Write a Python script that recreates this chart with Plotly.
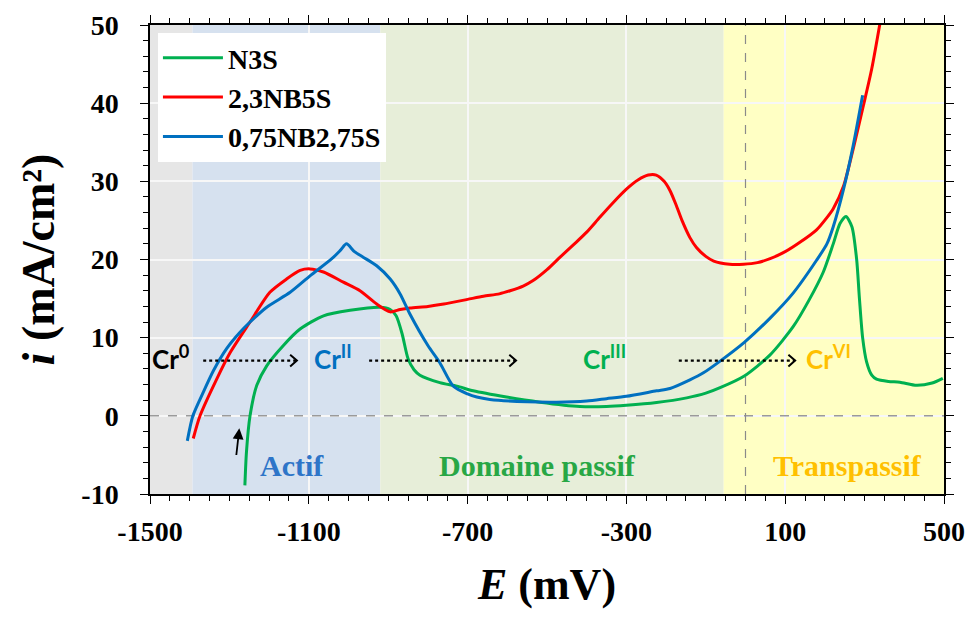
import plotly.graph_objects as go

# ---------------- data ----------------
E_N3S = [-1261, -1257, -1248, -1231, -1206, -1164, -1122, -1063, -996, -920, -895, -880, -865,
         -850, -835, -820, -770, -727, -686, -602, -518, -417, -350, -300, -224, -148, -100,
         -64, -3, 62, 120, 160, 196, 221, 238, 253, 268, 280, 287, 295, 305, 318, 330, 360,
         389, 431, 470, 497]
I_N3S = [-8.9, -4.6, 0.0, 3.9, 6.4, 9.0, 11.1, 12.8, 13.5, 13.9, 13.6, 12.8, 10.5,
         7.3, 5.9, 5.2, 4.25, 3.8, 3.2, 2.4, 1.75, 1.2, 1.2, 1.35, 1.7, 2.3, 2.9,
         3.6, 5.1, 7.8, 11.4, 14.8, 18.4, 22.0, 24.6, 25.5, 24.2, 20.0, 15.0, 10.0, 6.9, 5.2, 4.7, 4.4,
         4.3, 3.9, 4.2, 4.8]

E_NB5S = [-1391, -1374, -1332, -1298, -1248, -1198, -1156, -1122, -1097, -1063, -1013, -971, -929,
          -895, -870, -845, -800, -760, -700, -660, -620, -593, -560, -535, -500, -467, -433, -400,
          -367, -333, -300, -270, -245, -225, -205, -190, -175, -160, -140, -123, -100, -80, -40,
          -5, 30, 62, 100, 137, 179, 204, 221, 247, 271, 297, 318, 339]
I_NB5S = [-2.9, 0.0, 4.7, 8.1, 12.0, 15.8, 17.5, 18.6, 18.8, 18.4, 17.1, 16.0, 14.3,
          13.3, 13.6, 13.8, 14.0, 14.3, 14.9, 15.3, 15.6, 16.0, 16.6, 17.3, 18.7, 20.3, 21.9, 23.5,
          25.4, 27.3, 29.0, 30.2, 30.8, 30.8, 30.0, 28.8, 27.0, 25.0, 22.8, 21.5, 20.4, 19.8, 19.4,
          19.4, 19.6, 20.1, 21.0, 22.2, 23.8, 25.3, 26.5, 29.4, 34.1, 39.7, 44.4, 50.3]

E_NB275S = [-1406, -1392, -1366, -1340, -1307, -1275, -1248, -1206, -1147, -1097, -1042, -1020,
            -1005, -985, -963, -929, -895, -870, -845, -800, -770, -736, -700, -677, -644, -550,
            -476, -400, -350, -300, -224, -190, -140, -106, -64, -3, 62, 120, 179, 205, 221, 247,
            271, 295]
I_NB275S = [-3.2, 0.0, 3.0, 5.8, 8.6, 10.6, 12.0, 13.9, 15.8, 17.9, 20.1, 21.2,
            22.0, 21.0, 20.3, 19.2, 17.5, 15.6, 13.0, 9.0, 6.8, 3.8, 2.8, 2.4, 2.1, 1.8,
            1.75, 1.9, 2.2, 2.5, 3.2, 3.5, 4.6, 5.5, 7.0, 9.4, 12.5, 15.7, 19.9, 22.0, 24.2, 29.0,
            34.5, 41.0]

series_names = ["N3S", "2,3NB5S", "0,75NB2,75S"]
series_colors = ["#00b050", "#ff0000", "#0070c0"]

x_tickvals = [-1500, -1100, -700, -300, 100, 500]
x_ticktext = ["-1500", "-1100", "-700", "-300", "100", "500"]
y_tickvals = [-10, 0, 10, 20, 30, 40, 50]
y_ticktext = ["-10", "0", "10", "20", "30", "40", "50"]

# domains (mV)
dom_bounds = [-1500, -1393, -920, -55, 500]
dom_colors = ["#e6e6e6", "#d6e1ef", "#e7eed9", "#ffffc4"]

fig = go.Figure()

for E, I, name, col in zip([E_N3S, E_NB5S, E_NB275S], [I_N3S, I_NB5S, I_NB275S],
                           series_names, series_colors):
    fig.add_trace(go.Scatter(x=E, y=I, mode="lines", name=f"<b>{name}</b>",
                             line=dict(color=col, width=3, shape="spline", smoothing=0.7)))

# background domains
for i in range(4):
    fig.add_shape(type="rect", xref="x", yref="y", x0=dom_bounds[i], x1=dom_bounds[i + 1],
                  y0=-10, y1=50, fillcolor=dom_colors[i], line=dict(width=0), layer="below")

# dashed reference lines
fig.add_shape(type="line", xref="x", yref="y", x0=-1500, x1=500, y0=0, y1=0,
              line=dict(color="#9a9a9a", width=1.5, dash="dash"), layer="between")
fig.add_shape(type="line", xref="x", yref="y", x0=0, x1=0, y0=-10, y1=50,
              line=dict(color="#8a8a8a", width=1.2, dash="dash"), layer="between")

# dotted arrows Cr transitions
arrow_y = 7.07
for x0, x1 in [(-1366, -1130), (-948, -578), (-168, 125)]:
    fig.add_shape(type="line", xref="x", yref="y", x0=x0, x1=x1, y0=arrow_y, y1=arrow_y,
                  line=dict(color="black", width=2.2, dash="dot"))
    fig.add_shape(type="path", xref="x", yref="y",
                  path=f"M {x1-17},{arrow_y+0.75} L {x1},{arrow_y} L {x1-17},{arrow_y-0.75}",
                  line=dict(color="black", width=2))

cr_font = "Lato, 'Open Sans', sans-serif"
for txt, xx, col in [("Cr<sup>0</sup>", -1447, "black"), ("Cr<sup>II</sup>", -1040, "#0070c0"),
                     ("Cr<sup>III</sup>", -356, "#00b050"), ("Cr<sup>VI</sup>", 208, "#ffc000")]:
    fig.add_annotation(x=xx, y=arrow_y + 0.4, xref="x", yref="y", text=f"<b>{txt}</b>",
                       showarrow=False, font=dict(family=cr_font, size=26, color=col))

serif = "'Liberation Serif', 'Times New Roman', serif"
for txt, xx, col in [("Actif", -1142, "#2e75c8"), ("Domaine passif", -523, "#28a745"),
                     ("Transpassif", 256, "#ffc000")]:
    fig.add_annotation(x=xx, y=-6.4, xref="x", yref="y", text=f"<b>{txt}</b>",
                       showarrow=False, font=dict(family=serif, size=30, color=col))

# small black arrow
fig.add_annotation(x=-1275, y=-1.6, ax=-1283, ay=-5.2, xref="x", yref="y", axref="x", ayref="y",
                   text="", showarrow=True, arrowhead=2, arrowsize=1.2, arrowwidth=1.8,
                   arrowcolor="black")

axis_common = dict(showline=True, linecolor="black", linewidth=1.5, mirror="ticks",
                   ticks="outside", tickcolor="black", ticklen=8, tickwidth=1.2,
                   showgrid=True, gridcolor="#f7f7f7", gridwidth=1.5, zeroline=False,
                   automargin=False,
                   tickfont=dict(family=serif, size=28, color="black"))

fig.update_xaxes(range=[-1500, 500], tickvals=x_tickvals, ticktext=[f"<b>{t}</b>" for t in x_ticktext],
                 minor=dict(dtick=50, tick0=-1500, ticklen=5, ticks="outside", tickcolor="black",
                            showgrid=False),
                 ticklabelstandoff=4,
                 title=dict(text="<b><i>E</i> (mV)</b>", font=dict(family=serif, size=44, color="black"),
                            standoff=22),
                 **axis_common)
fig.update_yaxes(range=[-10, 50], tickvals=y_tickvals, ticktext=[f"<b>{t}</b>" for t in y_ticktext],
                 minor=dict(dtick=2, tick0=0, ticklen=5, ticks="outside", tickcolor="black",
                            showgrid=False),
                 ticklabelstandoff=16,
                 title=dict(text="<b><i>i</i> (mA/cm²)</b>", font=dict(family=serif, size=46, color="black"),
                            standoff=12),
                 **axis_common)

fig.update_layout(
    width=971, height=618,
    margin=dict(l=150, r=27, t=25, b=124),
    paper_bgcolor="white", plot_bgcolor="white",
    showlegend=True,
    legend=dict(x=0.01, y=0.983, xanchor="left", yanchor="top", bgcolor="white",
                font=dict(family=serif, size=28, color="black"), tracegroupgap=0,
                itemwidth=60),
)

fig.write_html("out.html", config={"displayModeBar": False},
               post_script="document.body.style.margin='0';")
